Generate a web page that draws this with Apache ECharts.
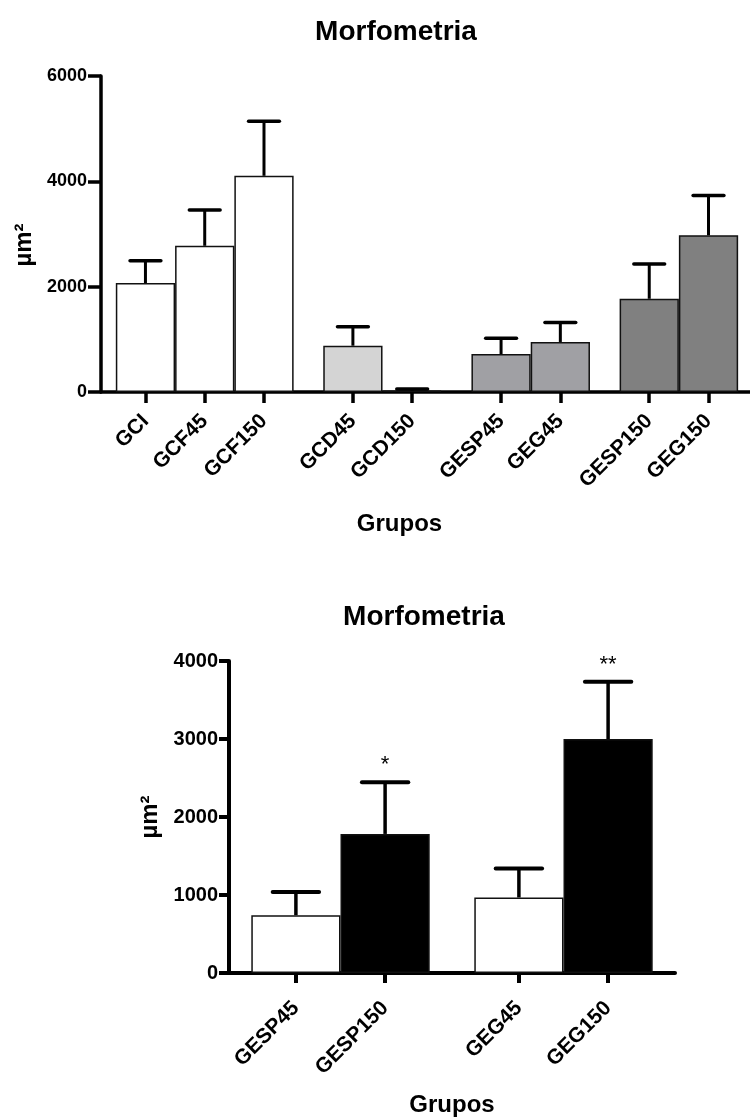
<!DOCTYPE html>
<html>
<head>
<meta charset="utf-8">
<script src="https://cdn.jsdelivr.net/npm/echarts@6/dist/echarts.min.js"></script>
<style>
html,body{margin:0;padding:0;background:#fff;}
#c{width:750px;height:1118px;}
</style>
</head>
<body>
<div id="c"></div>
<script>
// ---------- data: chart 1 ----------
const title1 = 'Morfometria';
const cats1 = ['GCI', 'GCF45', 'GCF150', 'GCD45', 'GCD150', 'GESP45', 'GEG45', 'GESP150', 'GEG150'];
const clusters1 = [3, 2, 2, 2];
const mean1 = [2070, 2776, 4105, 879, 25, 720, 950, 1770, 2975];
const sem1 = [422, 678, 1037, 360, 30, 300, 368, 660, 755];
const yTicks1 = [0, 2000, 4000, 6000];

// ---------- data: chart 2 ----------
const title2 = 'Morfometria';
const cats2 = ['GESP45', 'GESP150', 'GEG45', 'GEG150'];
const clusters2 = [2, 2];
const mean2 = [741, 1783, 968, 3000];
const sem2 = [299, 661, 372, 733];
const sig2 = ['', '*', '', '**'];
const yTicks2 = [0, 1000, 2000, 3000, 4000];

const yName = 'µm²';
const xName = 'Grupos';

// ---------- styles ----------
const fill1 = ['#ffffff', '#ffffff', '#ffffff', '#d4d4d4', '#d4d4d4', '#a0a0a4', '#a0a0a4', '#808080', '#808080'];
const fill2 = ['#ffffff', '#000000', '#ffffff', '#000000'];
const FONT = '"Liberation Sans", Arial, Helvetica, sans-serif';

// bar centre positions (in bar-width units) from cluster sizes
function positions(clusters) {
  const out = [];
  let x = 0.25;
  clusters.forEach(n => {
    for (let i = 0; i < n; i++) { out.push(x + 0.5); x += 1; }
    x += 0.5;
  });
  return out;
}
const pos1 = positions(clusters1);
const pos2 = positions(clusters2);

const G1 = {left: 101, top: 76, width: 649, height: 316, max: 10.95};
const G2 = {left: 229, top: 661, width: 446, height: 316, max: 5};

function xAxisCfg(idx, pos, cats, g, margin, tickLen, lw) {
  return {
    type: 'value', gridIndex: idx, min: 0, max: g.max,
    axisLine: {show: true, onZero: false, lineStyle: {color: '#000', width: lw}},
    axisTick: {show: true, length: tickLen, customValues: pos, lineStyle: {color: '#000', width: lw}},
    axisLabel: {
      show: true, customValues: pos, rotate: 45, margin: margin,
      fontFamily: FONT, fontWeight: 'bold', fontSize: 21, color: '#000',
      formatter: v => { const i = pos.findIndex(p => Math.abs(p - v) < 1e-6); return i >= 0 ? cats[i] : ''; }
    },
    splitLine: {show: false},
    name: xName, nameLocation: 'middle', nameGap: 120,
    nameTextStyle: Object.assign({fontFamily: FONT, fontWeight: 'bold', fontSize: 24, color: '#000', verticalAlign: 'top'},
      idx === 0 ? {padding: [0, 52, 0, 0]} : {})
  };
}
function yAxisCfg(idx, ticks, tickLen, fs, lw, pad) {
  return {
    type: 'value', gridIndex: idx, min: ticks[0], max: ticks[ticks.length - 1],
    interval: ticks[1] - ticks[0],
    axisLine: {show: true, lineStyle: {color: '#000', width: lw}},
    axisTick: {show: true, length: tickLen, lineStyle: {color: '#000', width: lw}},
    axisLabel: {show: true, margin: tickLen + 1, fontFamily: FONT, fontWeight: 'bold', fontSize: fs, color: '#000',
      formatter: v => String(v)},
    splitLine: {show: false},
    name: yName, nameLocation: 'middle', nameRotate: 90, nameGap: 62,
    nameTextStyle: {fontFamily: FONT, fontWeight: 'bold', fontSize: 24, color: '#000', padding: pad}
  };
}
function barSeries(idx, pos, mean, fills, g) {
  return {
    type: 'bar', xAxisIndex: idx, yAxisIndex: idx,
    barWidth: g.width / g.max,
    data: pos.map((p, i) => ({value: [p, mean[i]], itemStyle: {color: fills[i]}})),
    itemStyle: {borderColor: '#111', borderWidth: 1.5},
    silent: true, z: 2
  };
}
function errSeries(idx, pos, mean, sem, sig, lw) {
  return {
    type: 'custom', xAxisIndex: idx, yAxisIndex: idx, z: 3, silent: true,
    data: pos.map((p, i) => [p, mean[i], mean[i] + sem[i], i]),
    renderItem: function (params, api) {
      const base = api.coord([api.value(0), api.value(1)]);
      const top = api.coord([api.value(0), api.value(2)]);
      const half = api.size([1, 0])[0] * 0.26;
      const children = [
        {type: 'line', shape: {x1: top[0], y1: base[1], x2: top[0], y2: top[1]}, style: {stroke: '#000', lineWidth: lw}},
        {type: 'line', shape: {x1: top[0] - half, y1: top[1], x2: top[0] + half, y2: top[1]}, style: {stroke: '#000', lineWidth: lw + 0.5, lineCap: 'round'}}
      ];
      const s = sig ? sig[api.value(3)] : '';
      if (s) {
        children.push({type: 'text', style: {text: s, x: top[0], y: top[1] - 6, align: 'center', verticalAlign: 'bottom',
          font: 'normal 22px ' + FONT, fill: '#000'}});
      }
      return {type: 'group', children: children};
    }
  };
}

const chart = echarts.init(document.getElementById('c'), null, {renderer: 'canvas'});
chart.setOption({
  backgroundColor: '#fff',
  animation: false,
  title: [
    {text: title1, left: 396, top: 18, textAlign: 'center', padding: 0,
     textStyle: {fontFamily: FONT, fontWeight: 'bold', fontSize: 28, color: '#000'}},
    {text: title2, left: 424, top: 603, textAlign: 'center', padding: 0,
     textStyle: {fontFamily: FONT, fontWeight: 'bold', fontSize: 28, color: '#000'}}
  ],
  grid: [
    {left: G1.left, top: G1.top, width: G1.width, height: G1.height, containLabel: false},
    {left: G2.left, top: G2.top, width: G2.width, height: G2.height, containLabel: false}
  ],
  xAxis: [
    xAxisCfg(0, pos1, cats1, G1, 26, 11, 3.5),
    xAxisCfg(1, pos2, cats2, G2, 32, 10, 4)
  ],
  yAxis: [
    yAxisCfg(0, yTicks1, 13, 18, 3.5, [0, 22, 0, 0]),
    yAxisCfg(1, yTicks2, 10, 20, 4, 0)
  ],
  series: [
    barSeries(0, pos1, mean1, fill1, G1),
    errSeries(0, pos1, mean1, sem1, null, 3),
    barSeries(1, pos2, mean2, fill2, G2),
    errSeries(1, pos2, mean2, sem2, sig2, 3.5)
  ]
});
</script>
</body>
</html>
